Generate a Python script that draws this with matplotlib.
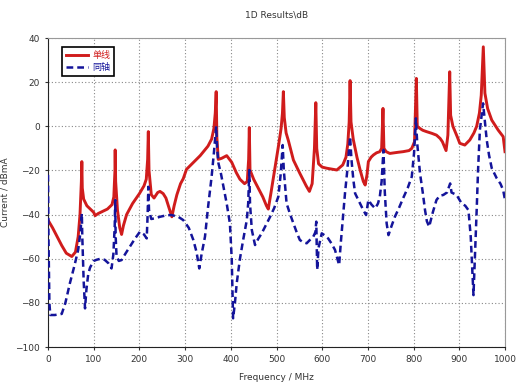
import matplotlib
matplotlib.use("Agg")
import matplotlib.pyplot as plt

plt.rcParams["font.family"] = ["DejaVu Sans", "Noto Sans CJK SC"]

# ------------------------------------------------------------
# data (frequency in MHz, current in dBmA)
# ------------------------------------------------------------
single_f = [0, 10, 20, 30, 40, 52, 60, 66, 70, 73, 74, 75, 78, 85, 95, 100, 103, 110,
            120, 130, 140, 144, 146.5, 147, 148, 152, 157, 161, 165, 172, 185, 200, 210,
            215, 218, 219.5, 221, 226, 232, 240, 245, 252, 258, 265, 271, 276, 282, 290,
            296, 303, 315, 333, 350, 358, 363, 366, 368, 369.5, 372.5, 380, 391, 402,
            412, 420, 430, 436, 439, 440.5, 442, 450, 460, 470, 478, 482, 488, 497, 505,
            510, 513, 515, 517, 521, 526, 537, 551, 565, 572, 578, 583, 586, 588, 592,
            600, 610, 632, 645, 652, 656, 659, 661, 663, 668, 676, 683, 690, 694, 698,
            701, 707, 712, 719, 726, 730, 733, 735, 740, 748, 765, 777, 790, 796, 802,
            806, 808, 814, 820, 828, 840, 850, 858, 863, 868, 871, 875, 879, 881, 886,
            890, 896, 901, 912, 923, 932, 938, 944, 948, 952.5, 956, 962, 971, 985, 996,
            1000]
single_db = [-42.5, -46, -50, -54, -57.5, -59, -57, -50, -40, -25, -16, -28, -33, -36,
             -38, -39, -40.5, -39.5, -38.5, -37.5, -35.5, -32, -20, -10.7, -25, -38, -46,
             -49, -45, -40, -35, -30.5, -27, -24, -15, -2.4, -20, -31, -32.5, -30, -29.5,
             -30.5, -32.5, -37, -41, -36, -31, -26, -23.7, -19.5, -17, -13.3, -9, -5.8,
             -1, 6, 15.7, -5, -15, -14.5, -13.3, -16.3, -21, -24, -26, -25, -15, -0.6,
             -19.8, -24, -28, -32, -36, -37.5, -30, -18.3, -8, -1, 6, 15.7, 4, -3, -6.5,
             -15.3, -21.3, -27, -29.5, -26, -10, 10.7, -10, -17, -18.5, -19, -19.8, -17.5,
             -14, -8, 2, 20.7, 2, -6, -14, -19.8, -25, -26.6, -22, -16, -14, -13, -12,
             -11.5, -10, 8.1, -10, -11.5, -12.3, -11.8, -11.5, -11, -10, -7, 21.7, 0, -1,
             -1.8, -2.4, -3.2, -4, -5.5, -7, -9.5, -11, -4, 24.7, 5, 0, -2, -5, -7.7,
             -8.5, -6.2, -3, 0, 6, 14, 36, 15, 8, 2.8, -1.7, -4.7, -11.5]

coax_f = [0, 1, 3, 5, 15, 30, 38, 48, 58, 66, 71, 73, 74, 75, 78, 81, 84, 88, 92, 100,
          106, 115, 124, 132, 139, 143, 146, 147, 148, 150, 155, 161, 170, 179, 190, 201,
          210, 216, 218, 219.5, 221, 226, 234, 245, 260, 270, 285, 296, 308, 318, 325,
          331, 336, 343.5, 350, 358, 363, 368, 370, 373, 378, 384, 391, 398, 402, 405,
          409, 413, 420, 427, 435, 438, 440.5, 442, 446, 453, 460, 467.6, 475, 486, 495,
          504, 509, 513.5, 516, 522, 530, 537, 545, 551, 558, 566, 573, 580.5, 585, 587,
          589, 592, 599, 606, 613, 620, 628, 637, 641, 646, 650, 655, 661, 664, 668, 672,
          683, 690, 696, 701, 708, 716, 722, 726, 730, 734, 737, 741, 745, 752, 759, 768,
          777, 787, 796, 801, 805, 808, 814, 820, 825, 829, 834, 842, 850, 857, 865, 873,
          878, 880, 883, 888, 894, 905, 913, 920, 925, 931, 935, 938, 941, 945, 952, 956,
          960, 965, 971, 982, 990, 996, 1000]
coax_db = [-22, -50, -80, -85.5, -85.5, -85, -80, -71, -63, -56, -48, -42, -39.5, -50,
           -70, -82.5, -74, -67, -64, -61, -60.5, -60, -60.5, -62, -64.4, -58, -45, -33.4,
           -50, -59, -61, -60.6, -57.5, -54.6, -51, -47.8, -49, -50.8, -40, -27.4, -38,
           -42, -41.7, -41, -40.3, -40.2, -41, -42.5, -46, -51.5, -57, -64.4, -58, -50,
           -37, -22.8, -12, 0, -10, -16.8, -21, -27.4, -35, -44, -60, -87, -80, -71, -60,
           -51.5, -42.5, -35, -19.8, -35, -47, -53.8, -51, -48.5, -45.5, -41, -37, -31.9,
           -22, -8.5, -20, -34.9, -40, -44, -48.5, -51.5, -52.5, -53, -51.5, -50, -48,
           -43.2, -65, -55, -48.5, -49.5, -50.8, -53, -56, -62.9, -52, -39.5, -30, -19.8,
           -4.7, -15, -24, -30.4, -35, -38, -40.2, -33.4, -35.5, -37.2, -35, -32, -25,
           -10.7, -30, -44, -49.3, -45, -41, -37, -32.6, -28, -22.8, -12, 3.6, -8, -21.3,
           -30, -38, -43, -45.5, -39, -33.4, -31.5, -31.1, -30, -27, -25.9, -30, -30.5,
           -31.1, -34.9, -36, -38, -50, -76.5, -55, -38, -20, -1.7, 10.4, 2, -6.2, -13,
           -19, -23.6, -26, -28.9, -33.4]

x_ticks = list(range(0, 1001, 100))
y_ticks = list(range(-100, 41, 20))

RED = "#d01c1c"
BLUE = "#14149a"
TXT = "#333333"

fig = plt.figure(figsize=(5.23, 3.82), dpi=100, facecolor="white")
ax = fig.add_axes([0.0918, 0.0916, 0.8738, 0.8089])

ax.plot(single_f, single_db, color=RED, lw=2.1, label="单线", zorder=3)
ax.plot(coax_f, coax_db, color=BLUE, lw=1.8, dashes=(2.7, 1.6), label="同轴", zorder=4)

ax.set_xlim(0, 1000)
ax.set_ylim(-100, 40)
ax.set_xticks(x_ticks)
ax.set_yticks(y_ticks)
ax.grid(True, color="#888888", linestyle=(0, (1, 2)), linewidth=0.8)
ax.tick_params(labelsize=6.5, colors=TXT, length=2.5, width=0.8)
for side in ["top", "right"]:
    ax.spines[side].set_color("#999999")
for side in ["left", "bottom"]:
    ax.spines[side].set_color("#222222")

ax.set_title("1D Results\\dB", fontsize=6.5, color=TXT, pad=15)
ax.set_xlabel("Frequency / MHz", fontsize=6.5, color=TXT, labelpad=6)
ax.set_ylabel("Current / dBmA", fontsize=6.5, color=TXT, labelpad=4)

leg = ax.legend(loc="upper left", bbox_to_anchor=(0.031, 0.972), fontsize=6.5,
                fancybox=False, framealpha=1, edgecolor="black", handlelength=2.4,
                handletextpad=0.5, borderpad=0.45, borderaxespad=0, labelspacing=0.35)
leg.get_frame().set_linewidth(1.2)
for t, c in zip(leg.get_texts(), [RED, BLUE]):
    t.set_color(c)

fig.savefig("out.png", dpi=100)
